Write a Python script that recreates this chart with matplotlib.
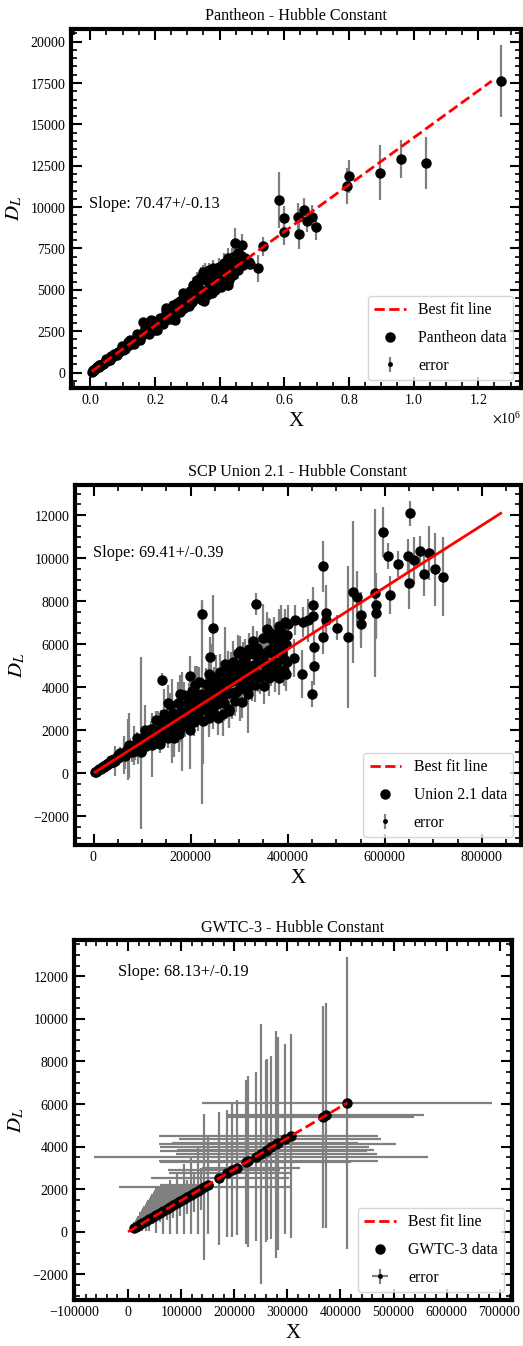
#!/usr/bin/env python3
"""Hubble constant fits for Pantheon, SCP Union 2.1 and GWTC-3 (D_L against X)."""

import matplotlib

matplotlib.use("Agg")
import matplotlib.pyplot as plt
import numpy as np
from matplotlib.lines import Line2D


FIG_W_PX = 523
FIG_H_PX = 1346
DPI = 100
ERR_COLOR = "gray"
FIT_COLOR = "red"

# ---- Pantheon (X, D_L, error on D_L) ----
PANTHEON_X = [
    4000, 7000, 9500, 12000, 15500, 18000, 22000, 26500, 30000, 34000,
    38500, 43000, 47000, 52000, 56500, 61000, 66000, 70500, 75000, 80000,
    85500, 90000, 95000, 100500, 105000, 110000, 116000, 120000, 126000, 131500,
    137000, 142000, 148000, 153000, 158000, 163000, 166500, 172000, 178000, 183000,
    188000, 192500, 198000, 204000, 210000, 216000, 222000, 228000, 233000, 238500,
    244000, 250000, 255000, 260500, 266000, 272000, 278000, 283000, 288000, 294000,
    300000, 305500, 310000, 315000, 320000, 326000, 332000, 338000, 344000, 349000,
    352500, 358000, 364000, 370000, 376000, 382000, 388000, 394000, 400000, 405000,
    410000, 416000, 422000, 427000, 432000, 437000, 442000, 447000, 452000, 458000,
    463000, 468000, 473000, 480000, 490000, 494000, 518000, 535000, 585000, 600000,
    600000, 642000, 646000, 661000, 670000, 687000, 699000, 794000, 799000, 895000,
    962000, 1037000, 1269000,
    205000, 215000, 225000, 235000, 247000, 257000, 263000, 269000, 276000, 286000,
    291000, 297000, 303000, 308000, 313000, 318000, 323000, 329000, 335000, 341000,
    346000, 355000, 361000, 367000, 373000, 379000, 385000, 391000, 397000, 403000,
    408000, 413000, 419000, 425000, 430000, 435000, 440000, 445000, 450000, 456000,
    50000, 60000, 72000, 83000, 97000, 108000, 123000, 134000, 145000, 155000,
    168000, 180000, 194000, 200000, 28000, 40000, 20000, 64000, 118000, 186000,
]
PANTHEON_DL = [
    60, 95, 130, 170, 215, 250, 320, 360, 430, 470,
    545, 600, 680, 720, 800, 850, 960, 980, 1080, 1110,
    1230, 1260, 1370, 1390, 1520, 1530, 1660, 1650, 1800, 1820,
    1990, 1960, 2150, 2100, 2300, 3050, 2330, 2500, 2440, 2800,
    3200, 2650, 2900, 2780, 3050, 2980, 3300, 3100, 3900, 3350,
    3600, 3450, 4100, 3150, 3800, 3900, 4300, 3850, 4800, 4200,
    4350, 4050, 4600, 4250, 5100, 4500, 5300, 4700, 4900, 6100,
    4300, 5600, 5050, 5400, 4800, 5800, 5300, 6000, 5500, 5200,
    6200, 5700, 6500, 5300, 6300, 6900, 5900, 7850, 6700, 6200,
    7100, 7700, 6500, 6900, 6700, 6550, 6300, 7620, 10440, 9350,
    8480, 9430, 8380, 9840, 9190, 9430, 8790, 11270, 11860, 12080,
    12890, 12670, 17620,
    2600, 3300, 2950, 3700, 3250, 3950, 3450, 4200, 3650, 4500,
    3900, 4700, 4100, 4900, 4400, 5300, 4650, 5600, 4900, 5800,
    4400, 6000, 4700, 6200, 5100, 6300, 5000, 5600, 6400, 5800,
    5400, 6600, 6000, 6900, 5600, 6100, 7000, 6400, 6900, 7200,
    820, 760, 1150, 1050, 1600, 1400, 1950, 1720, 2350, 1950,
    2700, 2300, 3100, 2550, 480, 500, 340, 1000, 1850, 3000,
]
PANTHEON_ERR = [
    10, 10, 15, 15, 20, 20, 25, 25, 30, 30,
    35, 35, 40, 40, 45, 45, 50, 50, 55, 55,
    60, 60, 65, 65, 70, 70, 75, 75, 80, 80,
    90, 90, 95, 95, 100, 110, 100, 110, 110, 115,
    120, 115, 120, 120, 130, 130, 135, 135, 150, 140,
    145, 145, 160, 150, 155, 160, 170, 160, 180, 170,
    175, 170, 185, 175, 250, 185, 300, 195, 200, 400,
    190, 350, 210, 300, 205, 400, 220, 450, 230, 225,
    500, 240, 550, 400, 450, 600, 255, 900, 500, 550,
    500, 700, 300, 400, 320, 350, 800, 600, 1700, 700,
    800, 800, 900, 700, 700, 700, 800, 1100, 1000, 1660,
    1160, 1560, 2170,
    120, 150, 130, 200, 140, 220, 150, 250, 160, 300,
    170, 350, 180, 400, 190, 450, 200, 500, 210, 550,
    220, 600, 230, 450, 240, 500, 250, 260, 550, 280,
    300, 600, 350, 650, 300, 350, 700, 400, 600, 500,
    40, 45, 55, 60, 70, 75, 85, 90, 100, 105,
    115, 120, 130, 135, 25, 30, 20, 45, 80, 125,
]
PANTHEON_H0, PANTHEON_H0_ERR = 70.47, 0.13

# ---- SCP Union 2.1 ----
UNION_X = [
    3000, 5000, 7000, 9000, 12000, 15000, 18000, 21000, 24000, 27000,
    30000, 33000, 36000, 39000, 42000, 45000, 48000, 51000, 54000, 57000,
    60000, 63000, 66000, 69000, 72000, 75000, 78000, 81000, 84000, 87000,
    90000, 92000, 95000, 98000, 100000, 103000, 106000, 108000, 111000, 113000,
    116000, 118000, 121000, 123000, 126000, 128000, 131000, 133000, 136000, 138000,
    141000, 143000, 146000, 148000, 151000, 153000, 156000, 158000, 161000, 163000,
    166000, 168000, 171000, 173000, 176000, 178000, 181000, 183000, 186000, 188000,
    191000, 193000, 196000, 198000, 201000, 203000, 206000, 208000, 211000, 213000,
    216000, 218000, 221000, 223000, 226000, 228000, 231000, 233000, 236000, 238000,
    241000, 243000, 246000, 248000, 251000, 253000, 256000, 258000, 261000, 263000,
    266000, 268000, 271000, 273000, 276000, 278000, 281000, 283000, 286000, 288000,
    291000, 293000, 296000, 298000, 301000, 303000, 306000, 308000, 311000, 313000,
    316000, 318000, 321000, 323000, 326000, 328000, 331000, 333000, 336000, 338000,
    341000, 343000, 346000, 348000, 351000, 353000, 356000, 358000, 361000, 363000,
    366000, 368000, 371000, 373000, 376000, 378000, 381000, 383000, 386000, 388000,
    391000, 393000, 396000, 398000, 400000,
    92500, 99000, 105000, 111500, 117500, 124000, 130000, 136500, 142500, 149000,
    155000, 161500, 167500, 174000, 180000, 186500, 192500, 199000, 205000, 211500,
    217500, 224000, 230000, 236500, 242500, 249000, 255000, 261500, 267500, 274000,
    280000, 286500, 292500, 299000, 305000, 311500, 317500, 324000, 330000, 336500,
    342500, 349000, 355000, 361500, 367500, 374000, 380000, 386500, 392500, 399000,
    35000, 45000, 50000, 55000, 65000, 70000, 75000, 80000, 85000, 40000,
    652500, 596800, 605800, 626400, 648400, 659300, 673100, 691600, 680000, 704000,
    719100, 650400, 611300, 579700, 581700, 581700, 473200, 533600, 542600, 550800,
    550800, 523400, 501400, 478700, 478700, 451200, 451200, 440900, 430600, 471800,
    454700, 453300, 449900, 429300, 413500, 396300, 415500, 394200, 386000, 386000,
    370900, 362000, 371600, 344800, 334500, 327600, 320700, 302200, 307000, 289800,
    293300, 279500, 265800, 245200, 223200, 223200, 240400, 238300, 238300, 208800,
    199200, 178600, 176500, 166200, 152500, 140800, 182000, 97500, 73500, 161400,
]
UNION_DL = [
    45, 70, 105, 125, 175, 205, 265, 295, 360, 380,
    450, 460, 540, 530, 640, 620, 730, 700, 820, 790,
    900, 850, 1010, 930, 1100, 1020, 1190, 1080, 1300, 1170,
    1620, 1126, 1437, 988, 1657, 1410, 1985, 1245, 1759, 1465,
    1587, 2040, 1307, 1949, 1815, 2489, 1604, 2012, 1371, 2485,
    2234, 1648, 2734, 2025, 2501, 1653, 2359, 3186, 2088, 2818,
    1674, 2662, 2218, 3240, 2536, 2051, 3130, 2505, 3618, 2303,
    3165, 2503, 3530, 1997, 3041, 3803, 2374, 3297, 2888, 3683,
    2645, 4240, 3025, 3695, 2442, 3449, 4160, 3021, 3740, 2743,
    4514, 3501, 2835, 4109, 3435, 4374, 2582, 3903, 4700, 3410,
    4215, 3282, 5075, 3736, 4771, 3004, 4250, 4689, 3708, 5186,
    3354, 4643, 4265, 5581, 3902, 5020, 3307, 4659, 5377, 4284,
    5008, 3665, 5781, 4653, 4227, 6144, 5007, 4078, 5809, 4627,
    5650, 4448, 5234, 6268, 4046, 5595, 4873, 6705, 4421, 6276,
    4746, 5567, 6414, 4568, 5959, 5174, 6861, 4414, 6395, 5590,
    6196, 4813, 5990, 5161, 6916,
    1226, 1512, 1362, 1767, 1608, 1929, 1648, 2046, 1930, 2405,
    2054, 2467, 2172, 2758, 2463, 2902, 2440, 2982, 2776, 3413,
    2883, 3421, 2983, 3748, 3319, 3874, 3233, 3918, 3623, 4422,
    3711, 4376, 3793, 4739, 4174, 4847, 4025, 4855, 4469, 5430,
    4539, 5330, 4604, 5729, 5030, 5819, 4818, 5791, 5316, 6438,
    620, 560, 850, 930, 800, 1150, 1250, 1000, 1050, 500,
    12080, 11200, 10110, 9730, 10080, 9890, 10310, 10230, 9250, 9480,
    9140, 8860, 8280, 8360, 7810, 7450, 9610, 8440, 8200, 7340,
    6920, 6330, 6770, 7450, 7110, 7840, 7300, 7110, 7030, 6330,
    5860, 5000, 3670, 4610, 5360, 4610, 7140, 7030, 6560, 6090,
    6450, 6520, 5980, 5310, 7860, 5780, 5550, 5670, 5200, 4920,
    3750, 2890, 2730, 6770, 7390, 3300, 5420, 4610, 2580, 4090,
    4530, 3670, 1800, 1640, 3280, 4340, 2400, 1400, 1290, 2700,
]
UNION_ERR = [
    30, 40, 50, 60, 70, 80, 90, 100, 110, 120,
    130, 140, 150, 160, 170, 180, 190, 200, 210, 220,
    230, 900, 240, 250, 1400, 260, 270, 280, 900, 290,
    300, 700, 310, 320, 330, 340, 1200, 350, 360, 370,
    380, 390, 1500, 400, 410, 420, 430, 900, 440, 450,
    460, 470, 1200, 480, 490, 500, 510, 520, 1600, 530,
    540, 550, 560, 1000, 570, 580, 590, 1400, 600, 610,
    620, 630, 640, 1800, 650, 660, 670, 680, 690, 1300,
    700, 710, 720, 730, 2000, 740, 750, 760, 770, 780,
    1500, 790, 800, 810, 820, 1100, 830, 840, 850, 860,
    870, 880, 1700, 890, 900, 910, 920, 930, 1200, 940,
    700, 750, 800, 850, 1500, 700, 750, 800, 850, 900,
    700, 1800, 750, 800, 850, 700, 1300, 750, 800, 850,
    700, 750, 800, 1600, 850, 700, 750, 800, 850, 900,
    700, 1200, 750, 800, 850, 700, 750, 800, 1400, 850,
    700, 750, 800, 850, 900,
    300, 320, 340, 360, 380, 400, 420, 440, 460, 480,
    500, 300, 320, 340, 360, 380, 400, 420, 440, 460,
    480, 500, 300, 320, 340, 360, 380, 400, 420, 440,
    460, 480, 500, 300, 320, 340, 360, 380, 400, 420,
    440, 460, 480, 500, 300, 320, 340, 360, 380, 400,
    200, 700, 250, 300, 600, 350, 400, 500, 450, 250,
    570, 1170, 600, 600, 800, 1100, 700, 1250, 1000, 1700,
    1850, 1250, 900, 3900, 1500, 1200, 1170, 3300, 1200, 1100,
    1100, 3300, 600, 1300, 900, 800, 900, 1000, 700, 800,
    700, 900, 600, 1100, 900, 800, 700, 600, 900, 800,
    800, 700, 900, 800, 500, 900, 800, 700, 900, 800,
    900, 800, 1000, 1500, 500, 4750, 900, 800, 900, 900,
    900, 900, 800, 900, 800, 300, 2300, 3980, 1520, 1700,
]
UNION_H0, UNION_H0_ERR = 69.41, 0.39

# ---- GWTC-3 (asymmetric errors on X, symmetric on D_L) ----
GWTC_X = [
    10700, 15500, 21000, 27000, 33500, 40000, 46500, 53000, 59500, 66000,
    72500, 79000, 85500, 92000, 98500, 105000, 111500, 118000, 124500, 131000,
    137500, 144000, 150000, 171000, 186800, 196200, 205700, 222600, 225800, 240200,
    249700, 259100, 262300, 270000, 279600, 283300, 296000, 306700, 367300, 372300,
    413200,
]
GWTC_DL = [
    157, 228, 308, 396, 492, 587, 683, 778, 873, 969,
    1064, 1160, 1255, 1350, 1446, 1541, 1637, 1732, 1827, 1923,
    2018, 2113, 2202, 2510, 2742, 2880, 3019, 3267, 3314, 3526,
    3665, 3803, 3850, 3963, 4104, 4158, 4345, 4502, 5391, 5465,
    6065,
]
GWTC_XERR_LO = [
    6000, 9000, 13000, 17000, 21000, 25000, 29000, 33000, 38000, 42000,
    46000, 50000, 54000, 58000, 62000, 66000, 70000, 74000, 78000, 82000,
    86000, 161600, 90000, 128000, 109400, 120000, 66700, 161600, 167900, 305000,
    160000, 199100, 170000, 209000, 221700, 200000, 200000, 248800, 178600, 183600,
    274200,
]
GWTC_XERR_HI = [
    2000, 3000, 4500, 5500, 7000, 8000, 9500, 11000, 13000, 14500,
    16000, 17500, 18500, 19000, 20000, 18500, 17000, 15000, 13500, 12000,
    10500, 162900, 12000, 132000, 119200, 90000, 118300, 196400, 244000, 325200,
    220000, 190900, 200000, 184000, 224800, 150000, 180000, 163100, 171700, 184300,
    272300,
]
GWTC_ERR = [
    150, 220, 300, 380, 470, 560, 300, 850, 400, 1050,
    500, 1250, 600, 1450, 700, 1650, 800, 1850, 900, 2050,
    1000, 3440, 2300, 3110, 2970, 3110, 3150, 3860, 4010, 3960,
    6100, 4290, 4250, 4290, 5350, 5000, 4460, 4780, 5220, 5300,
    6860,
]
GWTC_H0, GWTC_H0_ERR = 68.13, 0.19


def _configure_style() -> None:
    """Times-like fonts, thick frame and inward ticks on every side."""
    plt.rcParams.update(
        {
            "font.family": ["Liberation Serif", "DejaVu Serif"],
            "mathtext.fontset": "stix",
            "axes.formatter.use_mathtext": True,
            "axes.linewidth": 3.0,
            "xtick.direction": "in",
            "ytick.direction": "in",
            "xtick.top": True,
            "ytick.right": True,
            "xtick.major.size": 8,
            "ytick.major.size": 8,
            "xtick.minor.size": 4.5,
            "ytick.minor.size": 4.5,
            "xtick.major.width": 1.5,
            "ytick.major.width": 1.5,
            "xtick.minor.width": 1.2,
            "ytick.minor.width": 1.2,
            "xtick.labelsize": 10,
            "ytick.labelsize": 10,
        }
    )


def _draw_panel(ax, x, dl, yerr, xerr, h0, h0_err, title, data_label,
                solid_fit, fit_from_zero, text_pos) -> None:
    """Error bars, data points, best fit line, legend and slope text."""
    x = np.asarray(x, dtype=float)
    dl = np.asarray(dl, dtype=float)
    err = ax.errorbar(
        x, dl, yerr=yerr, xerr=xerr, fmt=".", color="black",
        ecolor=ERR_COLOR, elinewidth=1.6, markersize=5, zorder=1,
    )
    (data,) = ax.plot(x, dl, "o", color="black", markersize=6.5, zorder=2)

    # fit line drawn as X = H0 * D_L over the D_L range
    lo = 0.0 if fit_from_zero else dl.min()
    fit_dl = np.array([lo, dl.max()])
    ax.plot(h0 * fit_dl, fit_dl, color=FIT_COLOR, linewidth=2,
            linestyle="-" if solid_fit else "--", zorder=3)
    fit_handle = Line2D([], [], color=FIT_COLOR, linewidth=2, linestyle="--")

    ax.legend(
        [fit_handle, data, err],
        ["Best fit line", data_label, "error"],
        loc="lower right", fontsize=11.3, labelspacing=0.75,
    )
    ax.text(text_pos[0], text_pos[1], f"Slope: {h0:.2f}+/-{h0_err:.2f}",
            transform=ax.transAxes, fontsize=11.7)
    ax.set_title(title, fontsize=11.6)
    ax.set_xlabel("X", fontsize=15)
    ax.set_ylabel("$D_L$", fontsize=15)
    ax.minorticks_on()
    ax.tick_params(which="both", top=True, right=True)


def main() -> int:
    _configure_style()
    fig = plt.figure(figsize=(FIG_W_PX / DPI, FIG_H_PX / DPI), dpi=DPI)

    ax1 = fig.add_axes([0.1361, 0.7117, 0.8600, 0.2669])
    ax2 = fig.add_axes([0.1428, 0.3722, 0.8533, 0.2677])
    ax3 = fig.add_axes([0.1409, 0.0342, 0.8380, 0.2672])

    _draw_panel(ax1, PANTHEON_X, PANTHEON_DL, PANTHEON_ERR, None,
                PANTHEON_H0, PANTHEON_H0_ERR, "Pantheon - Hubble Constant",
                "Pantheon data", False, False, (0.04, 0.5))
    _draw_panel(ax2, UNION_X, UNION_DL, UNION_ERR, None,
                UNION_H0, UNION_H0_ERR, "SCP Union 2.1 - Hubble Constant",
                "Union 2.1 data", True, False, (0.04, 0.8))
    _draw_panel(ax3, GWTC_X, GWTC_DL, GWTC_ERR, [GWTC_XERR_LO, GWTC_XERR_HI],
                GWTC_H0, GWTC_H0_ERR, "GWTC-3 - Hubble Constant",
                "GWTC-3 data", False, True, (0.1, 0.9))

    fig.savefig("out.png", dpi=DPI)
    plt.close(fig)
    return 0


if __name__ == "__main__":
    raise SystemExit(main())
